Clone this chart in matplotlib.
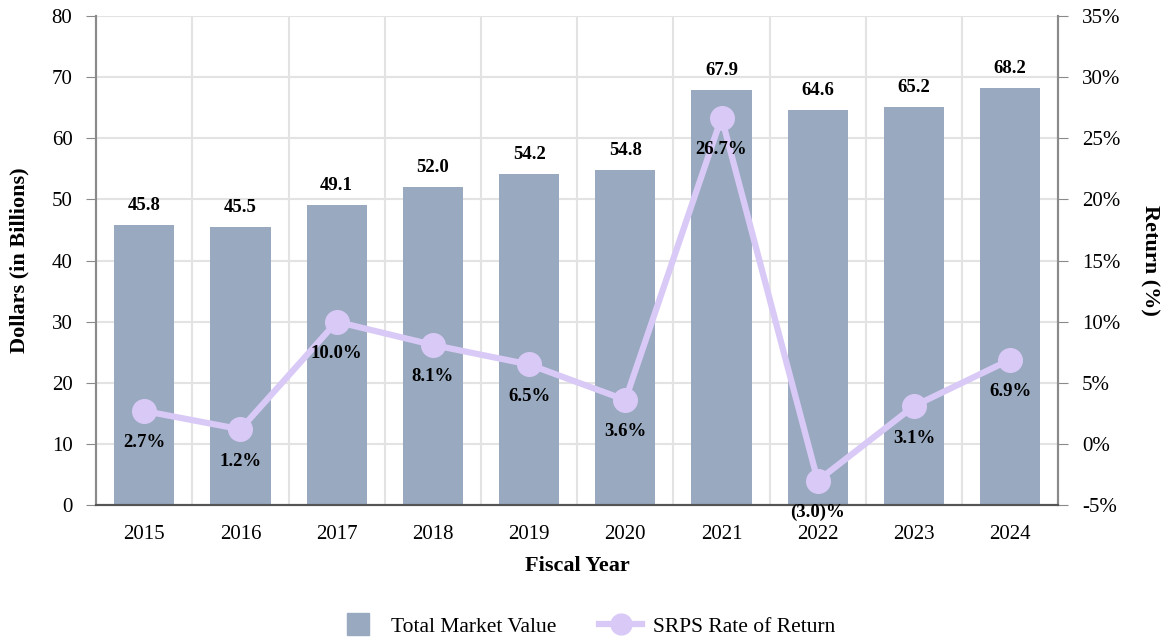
import matplotlib
matplotlib.use("Agg")
import matplotlib.pyplot as plt
from matplotlib.lines import Line2D

years = ["2015", "2016", "2017", "2018", "2019", "2020", "2021", "2022", "2023", "2024"]
market_value = [45.8, 45.5, 49.1, 52.0, 54.2, 54.8, 67.9, 64.6, 65.2, 68.2]
rate_of_return = [2.7, 1.2, 10.0, 8.1, 6.5, 3.6, 26.7, -3.0, 3.1, 6.9]

bar_color = "#98a9c0"
line_color = "#d9c9f6"
spine_color = "#8a8a8a"
grid_color = "#e3e3e3"

plt.rcParams["font.family"] = ["Liberation Serif", "DejaVu Serif"]

fig = plt.figure(figsize=(11.72, 6.41), dpi=100)
ax = fig.add_axes([0.082, 0.212, 0.821, 0.763])
ax2 = ax.twinx()

x = list(range(len(years)))
ax.bar(x, market_value, width=0.625, color=bar_color, zorder=2)
for xi, v in zip(x, market_value):
    ax.annotate(f"{v:.1f}", (xi, v), xytext=(0, 14), textcoords="offset points",
                ha="center", va="center", fontsize=13.5, fontweight="bold")

ax.set_xlim(-0.5, len(years) - 0.5)
ax.set_ylim(0, 80)
ax.set_yticks(range(0, 81, 10))
ax.set_xticks(x)
ax.set_xticklabels(years)
ax.set_xticks([i + 0.5 for i in x[:-1]], minor=True)
ax.grid(True, which="minor", axis="x", color=grid_color, lw=1.5, zorder=0)
ax.grid(True, which="major", axis="y", color=grid_color, lw=1.5, zorder=0)
ax.set_axisbelow(True)
ax.tick_params(axis="x", which="both", length=0, labelsize=15, pad=14)
ax.tick_params(axis="y", length=7, color=spine_color, labelsize=15, pad=10)
for s in ["top"]:
    ax.spines[s].set_visible(False)
    ax2.spines[s].set_visible(False)
for a in (ax, ax2):
    a.spines["left"].set_color(spine_color)
    a.spines["right"].set_color(spine_color)
    a.spines["bottom"].set_color("#555555")
    a.spines["left"].set_linewidth(1.5)
    a.spines["right"].set_linewidth(1.5)
    a.spines["bottom"].set_linewidth(1.5)

ax2.plot(x, rate_of_return, color=line_color, lw=4.5, marker="o", markersize=17, zorder=3)
for xi, r in zip(x, rate_of_return):
    lab = f"{r:.1f}%" if r >= 0 else f"({abs(r):.1f})%"
    ax2.annotate(lab, (xi, r), xytext=(0, -23), textcoords="offset points",
                 ha="center", va="center", fontsize=13.5, fontweight="bold")
ax2.set_ylim(-5, 35)
ax2.set_yticks(range(-5, 36, 5))
ax2.set_yticklabels([f"{t}%" for t in range(-5, 36, 5)])
ax2.tick_params(axis="y", length=7, color=spine_color, labelsize=15, pad=10)

ax.set_xlabel("Fiscal Year", fontsize=16, fontweight="bold", labelpad=9)
ax.set_ylabel("Dollars (in Billions)", fontsize=16, fontweight="bold", labelpad=16)
ax2.set_ylabel("Return (%)", fontsize=16, fontweight="bold", rotation=-90, labelpad=28)

handles = [Line2D([0], [0], color=bar_color, lw=0, marker="s", markersize=16,
                  label="Total Market Value"),
           Line2D([0], [0], color=line_color, lw=4.5, marker="o", markersize=15,
                  label="SRPS Rate of Return")]
fig.legend(handles=handles, loc="center", bbox_to_anchor=(0.5, 0.022), ncol=2,
           frameon=False, fontsize=15.5, handlelength=2.0, handletextpad=0.5,
           columnspacing=2.0)

fig.savefig("out.png", dpi=100)
